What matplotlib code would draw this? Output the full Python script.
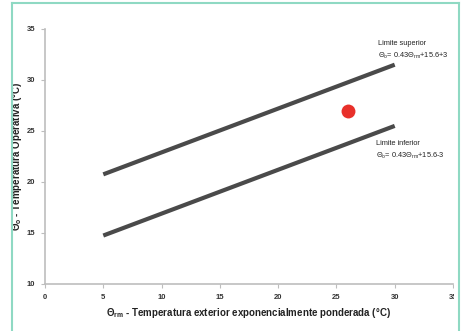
import matplotlib
matplotlib.use("Agg")
import matplotlib.pyplot as plt
import numpy as np
from matplotlib.patches import Rectangle
from matplotlib.lines import Line2D

plt.rcParams['font.family'] = ['Liberation Sans', 'DejaVu Sans']
plt.rcParams['mathtext.fontset'] = 'custom'
plt.rcParams['mathtext.rm'] = 'Liberation Sans'
plt.rcParams['mathtext.it'] = 'Liberation Sans'
plt.rcParams['mathtext.bf'] = 'Liberation Sans:bold'

# data
x_range = [5, 30]
slope = 0.43
intercept = 15.6
band = 3
point_x = [26]
point_y = [27]
x_ticks = [0, 5, 10, 15, 20, 25, 30, 35]
y_ticks = [10, 15, 20, 25, 30, 35]

W, H = 463, 331
fig = plt.figure(figsize=(W/100, H/100), dpi=100)
ax = fig.add_axes([45/W, 1-284/H, (453-45)/W, (284-29)/H])

xs = np.array(x_range, dtype=float)
upper = slope*xs + intercept + band
lower = slope*xs + intercept - band
ax.plot(xs, upper, color='#4a4a4a', lw=3, solid_capstyle='butt')
ax.plot(xs, lower, color='#4a4a4a', lw=3, solid_capstyle='butt')
ax.plot(point_x, point_y, 'o', color='#e8302a', ms=10, mec='none')

ax.set_xlim(0, 35)
ax.set_ylim(10, 35)
ax.set_xticks(x_ticks)
ax.set_yticks(y_ticks)
for s in ['top', 'right']:
    ax.spines[s].set_visible(False)
for s in ['left', 'bottom']:
    ax.spines[s].set_color('#bdbdbd')
    ax.spines[s].set_linewidth(1.2)
ax.tick_params(axis='both', labelsize=5.5, colors='#bdbdbd', labelcolor='#333333',
               length=3, width=0.8, pad=4)
for lab in ax.get_xticklabels() + ax.get_yticklabels():
    lab.set_fontweight('bold')

ax.set_xlabel(r'$\mathbf{\Theta_{rm}}$ - Temperatura exterior exponencialmente ponderada (°C)',
              fontsize=7, fontweight='bold', color='#222222', labelpad=4)
ax.set_ylabel(r'$\mathbf{\Theta_{o}}$ - Temperatura Operativa (°C)',
              fontsize=7, fontweight='bold', color='#222222', labelpad=2)

ax.text(28.6, 33.6, 'Limite superior', fontsize=5.3, color='#222222', va='center')
ax.text(28.6, 32.35, r'$\Theta_o$= 0.43$\Theta_{rm}$+15.6+3', fontsize=5.3, color='#222222', va='center')
ax.text(28.4, 23.8, 'Limite inferior', fontsize=5.3, color='#222222', va='center')
ax.text(28.4, 22.55, r'$\Theta_o$= 0.43$\Theta_{rm}$+15.6-3', fontsize=5.3, color='#222222', va='center')

# frame border (teal) and cropped right side
border = '#8fd9c3'
fig.add_artist(Rectangle((453.5/W, 0), (W-453.5)/W, 1, transform=fig.transFigure, facecolor='white',
                         edgecolor='none', zorder=10))
fig.add_artist(Line2D([11.5/W, 11.5/W], [0, 1-3/H], transform=fig.transFigure, color=border, lw=1.5, zorder=11))
fig.add_artist(Line2D([458.5/W, 458.5/W], [0, 1-3/H], transform=fig.transFigure, color=border, lw=1.5, zorder=11))
fig.add_artist(Line2D([11.5/W, 458.5/W], [1-3/H, 1-3/H], transform=fig.transFigure, color=border, lw=1.5, zorder=11))

fig.savefig('out.png', dpi=100)
